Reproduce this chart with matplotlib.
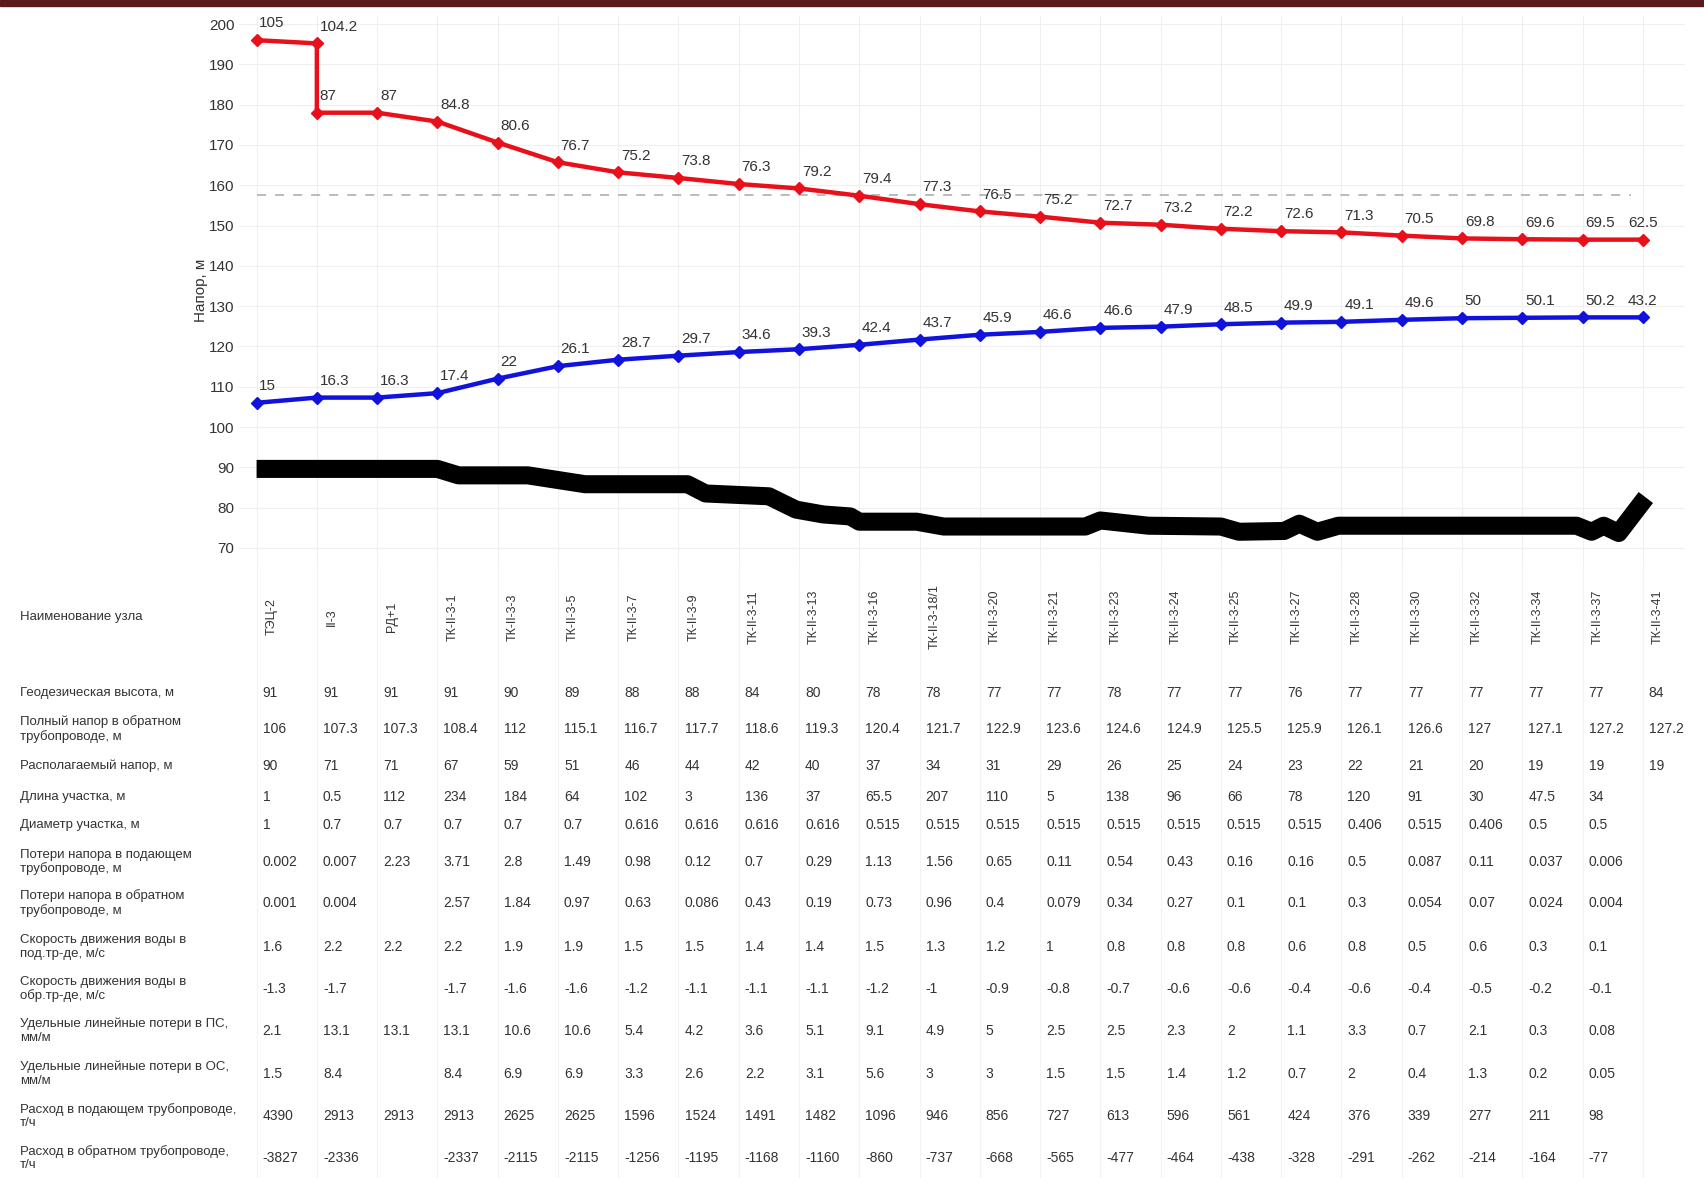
import matplotlib
matplotlib.use('Agg')
import matplotlib.pyplot as plt
from matplotlib.patches import Rectangle
from matplotlib.transforms import blended_transform_factory

plt.rcParams['font.family'] = ['Liberation Sans', 'DejaVu Sans']

# узлы трассы
nodes = ['ТЭЦ-2', 'II-3', 'РД+1', 'ТК-II-3-1', 'ТК-II-3-3', 'ТК-II-3-5', 'ТК-II-3-7',
         'ТК-II-3-9', 'ТК-II-3-11', 'ТК-II-3-13', 'ТК-II-3-16', 'ТК-II-3-18/1',
         'ТК-II-3-20', 'ТК-II-3-21', 'ТК-II-3-23', 'ТК-II-3-24', 'ТК-II-3-25',
         'ТК-II-3-27', 'ТК-II-3-28', 'ТК-II-3-30', 'ТК-II-3-32', 'ТК-II-3-34',
         'ТК-II-3-37', 'ТК-II-3-41']

geo = [91, 91, 91, 91, 90, 89, 88, 88, 84, 80, 78, 78, 77, 77, 78, 77, 77, 76, 77, 77,
       77, 77, 77, 84]
return_head = [106, 107.3, 107.3, 108.4, 112, 115.1, 116.7, 117.7, 118.6, 119.3, 120.4,
               121.7, 122.9, 123.6, 124.6, 124.9, 125.5, 125.9, 126.1, 126.6, 127, 127.1,
               127.2, 127.2]
avail_head = [90, 71, 71, 67, 59, 51, 46, 44, 42, 40, 37, 34, 31, 29, 26, 25, 24, 23, 22,
              21, 20, 19, 19, 19]

# напор в подающем (пьезометр над отметкой), на II-3 две точки - до и после регулятора
supply_x = [0, 1, 1] + list(range(2, 24))
supply_press = [105, 104.2, 87, 87, 84.8, 80.6, 76.7, 75.2, 73.8, 76.3, 79.2, 79.4, 77.3,
                76.5, 75.2, 72.7, 73.2, 72.2, 72.6, 71.3, 70.5, 69.8, 69.6, 69.5, 62.5]

static_head = 157.5

# профиль местности
terrain_x = [0, 3.0, 3.35, 4.5, 5.45, 7.15, 7.45, 8.5, 8.95, 9.4, 9.85, 10.0, 10.95, 11.4,
             13.75, 14.0, 14.8, 16.0, 16.3, 17.05, 17.3, 17.6, 17.95, 21.9, 22.15, 22.35,
             22.6, 23.05]
terrain_z = [89.6, 89.6, 88.0, 88.0, 85.8, 85.8, 83.5, 82.8, 79.5, 78.3, 77.8, 76.5, 76.5,
             75.3, 75.3, 76.8, 75.5, 75.3, 74.0, 74.2, 76.0, 74.0, 75.5, 75.5, 74.0, 75.5,
             73.7, 82.5]

seg_length = [1, 0.5, 112, 234, 184, 64, 102, 3, 136, 37, 65.5, 207, 110, 5, 138, 96, 66,
              78, 120, 91, 30, 47.5, 34, None]
seg_diam = [1, 0.7, 0.7, 0.7, 0.7, 0.7, 0.616, 0.616, 0.616, 0.616, 0.515, 0.515, 0.515,
            0.515, 0.515, 0.515, 0.515, 0.515, 0.406, 0.515, 0.406, 0.5, 0.5, None]
loss_supply = [0.002, 0.007, 2.23, 3.71, 2.8, 1.49, 0.98, 0.12, 0.7, 0.29, 1.13, 1.56, 0.65,
               0.11, 0.54, 0.43, 0.16, 0.16, 0.5, 0.087, 0.11, 0.037, 0.006, None]
loss_return = [0.001, 0.004, None, 2.57, 1.84, 0.97, 0.63, 0.086, 0.43, 0.19, 0.73, 0.96,
               0.4, 0.079, 0.34, 0.27, 0.1, 0.1, 0.3, 0.054, 0.07, 0.024, 0.004, None]
vel_supply = [1.6, 2.2, 2.2, 2.2, 1.9, 1.9, 1.5, 1.5, 1.4, 1.4, 1.5, 1.3, 1.2, 1, 0.8, 0.8,
              0.8, 0.6, 0.8, 0.5, 0.6, 0.3, 0.1, None]
vel_return = [-1.3, -1.7, None, -1.7, -1.6, -1.6, -1.2, -1.1, -1.1, -1.1, -1.2, -1, -0.9,
              -0.8, -0.7, -0.6, -0.6, -0.4, -0.6, -0.4, -0.5, -0.2, -0.1, None]
spec_loss_supply = [2.1, 13.1, 13.1, 13.1, 10.6, 10.6, 5.4, 4.2, 3.6, 5.1, 9.1, 4.9, 5, 2.5,
                    2.5, 2.3, 2, 1.1, 3.3, 0.7, 2.1, 0.3, 0.08, None]
spec_loss_return = [1.5, 8.4, None, 8.4, 6.9, 6.9, 3.3, 2.6, 2.2, 3.1, 5.6, 3, 3, 1.5, 1.5,
                    1.4, 1.2, 0.7, 2, 0.4, 1.3, 0.2, 0.05, None]
flow_supply = [4390, 2913, 2913, 2913, 2625, 2625, 1596, 1524, 1491, 1482, 1096, 946, 856,
               727, 613, 596, 561, 424, 376, 339, 277, 211, 98, None]
flow_return = [-3827, -2336, None, -2337, -2115, -2115, -1256, -1195, -1168, -1160, -860,
               -737, -668, -565, -477, -464, -438, -328, -291, -262, -214, -164, -77, None]

row_labels = ['Геодезическая высота, м',
              'Полный напор в обратном\nтрубопроводе, м',
              'Располагаемый напор, м',
              'Длина участка, м',
              'Диаметр участка, м',
              'Потери напора в подающем\nтрубопроводе, м',
              'Потери напора в обратном\nтрубопроводе, м',
              'Скорость движения воды в\nпод.тр-де, м/с',
              'Скорость движения воды в\nобр.тр-де, м/с',
              'Удельные линейные потери в ПС,\nмм/м',
              'Удельные линейные потери в ОС,\nмм/м',
              'Расход в подающем трубопроводе,\nт/ч',
              'Расход в обратном трубопроводе,\nт/ч']
row_values = [geo, return_head, avail_head, seg_length, seg_diam, loss_supply, loss_return,
              vel_supply, vel_return, spec_loss_supply, spec_loss_return, flow_supply,
              flow_return]
row_y = [693, 729, 766, 797, 825, 862, 903, 947, 989, 1031, 1074, 1116, 1158]

W, H = 1704, 1178
fig = plt.figure(figsize=(W / 100, H / 100), dpi=100)
fig.patch.set_facecolor('white')
fig.patches.append(Rectangle((0, 1 - 6 / H), 1, 6 / H, transform=fig.transFigure,
                             color='#5a1a1c', zorder=5))

ax = fig.add_axes([238.5 / W, 1 - 564 / H, 1446.5 / W, 548 / H])
ax.set_xlim(-0.3, 23.7)
ax.set_ylim(66, 202)
for s in ax.spines.values():
    s.set_visible(False)
ax.set_yticks(range(70, 201, 10))
ax.set_xticks(range(len(nodes)))
ax.set_xticklabels([])
ax.tick_params(length=0, labelsize=11, labelcolor='#333333', pad=3)
ax.grid(True, color='#efefef', lw=0.8)
ax.set_axisbelow(True)
ax.set_ylabel('Напор, м', fontsize=11, color='#333333')
ax.yaxis.set_label_coords(-0.021, 0.5)

# статический напор
ax.plot([0, 22.8], [static_head, static_head], color='#b5b5b5', lw=1.3, dashes=(5, 5))

# профиль местности
ax.plot(terrain_x, terrain_z, color='black', lw=13, solid_capstyle='butt',
        solid_joinstyle='round', zorder=2)

supply_head = [geo[x] + p for x, p in zip(supply_x, supply_press)]
ax.plot(supply_x, supply_head, color='#e8111b', lw=3.2, marker='D', ms=6, zorder=3)
ax.plot(range(len(nodes)), return_head, color='#1212dd', lw=3.2, marker='D', ms=6, zorder=3)

last = len(nodes) - 1
for x, y, p in zip(supply_x, supply_head, supply_press):
    off, ha = ((0, 7), 'center') if x == last else ((2, 7), 'left')
    ax.annotate(f'{p:g}', (x, y), xytext=off, textcoords='offset points', ha=ha,
                va='bottom', fontsize=11, color='#333333')
for x, (h, g) in enumerate(zip(return_head, geo)):
    off, ha = ((0, 7), 'center') if x == last else ((2, 7), 'left')
    ax.annotate(f'{round(h - g, 1):g}', (x, h), xytext=off, textcoords='offset points',
                ha=ha, va='bottom', fontsize=11, color='#333333')

# таблица под графиком
tr = blended_transform_factory(ax.transData, fig.transFigure)
for i in range(len(nodes)):
    ax.plot([i, i], [0, 1 - 564 / H], transform=tr, color='#f3f3f3', lw=0.8,
            clip_on=False, zorder=0)

fig.text(20 / W, 1 - 617 / H, 'Наименование узла', fontsize=9.5, color='#333333',
         va='center', ha='left')
for i, name in enumerate(nodes):
    ax.text(i + 0.25, 1 - 617 / H, name, transform=tr, rotation=90, fontsize=9,
            color='#333333', ha='center', va='center')

for label, vals, y in zip(row_labels, row_values, row_y):
    fy = 1 - y / H
    fig.text(20 / W, fy, label, fontsize=9.5, color='#333333', va='center', ha='left',
             linespacing=1.2)
    for i, v in enumerate(vals):
        if v is None:
            continue
        ax.text(i + 0.1, fy, f'{v:g}', transform=tr, fontsize=10, color='#333333',
                ha='left', va='center')

fig.savefig('out.png', dpi=100)
